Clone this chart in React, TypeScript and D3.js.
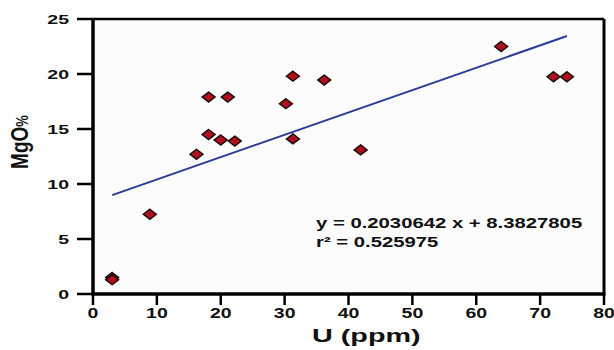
import React from 'react';
import * as d3 from 'd3';

// U (ppm) vs MgO% samples
const uPpm = [3, 3, 8.9, 16.2, 18.1, 21.1, 18.1, 20.0, 22.2, 30.2, 31.3, 31.3, 36.2, 41.9, 63.9, 72.1, 74.2];
const mgoPct = [1.5, 1.3, 7.25, 12.7, 17.9, 17.9, 14.5, 14.0, 13.9, 17.3, 19.8, 14.1, 19.45, 13.1, 22.5, 19.75, 19.75];

const xTicks = [0, 10, 20, 30, 40, 50, 60, 70, 80];
const yTicks = [0, 5, 10, 15, 20, 25];

const slope = 0.2030642;
const intercept = 8.3827805;
const fitRange = [3, 74.2];

const FONT = '"Liberation Sans", Arial, Helvetica, sans-serif';

const W = 614;
const H = 350;
const plot = { left: 93, right: 604, top: 19, bottom: 294 };

const App = () => {
    const x = d3.scaleLinear().domain([0, 80]).range([plot.left, plot.right]);
    const y = d3.scaleLinear().domain([0, 25]).range([plot.bottom, plot.top]);

    const fit = d3.line<number>()
        .x(d => x(d))
        .y(d => y(slope * d + intercept));

    // diamonds look squashed (picture is stretched sideways)
    const diamond = 'M0,-5 L6.5,0 L0,5 L-6.5,0 Z';

    return (
        <svg width={W} height={H} style={{ position: 'absolute', left: 0, top: 0, background: '#fff' }}
            fontFamily={FONT} fontWeight="bold">
            <rect x={plot.left} y={plot.top} width={plot.right - plot.left} height={plot.bottom - plot.top} fill="#fcfcfc" />

            {/* y ticks */}
            {yTicks.map(t => (
                <g key={'y' + t}>
                    <line x1={77} x2={plot.left} y1={y(t)} y2={y(t)} stroke="#000" strokeWidth={2.5} />
                    <text transform={`translate(69,${y(t) + 4.5}) scale(1.5,1)`} textAnchor="end" fontSize={13} fill="#111">{t}</text>
                </g>
            ))}

            {/* x ticks */}
            {xTicks.map(t => (
                <g key={'x' + t}>
                    <line x1={x(t)} x2={x(t)} y1={plot.bottom} y2={305} stroke="#000" strokeWidth={2.5} />
                    <text transform={`translate(${x(t)},318) scale(1.3,1)`} textAnchor="middle" fontSize={15} fill="#111">{t}</text>
                </g>
            ))}

            {/* frame */}
            <line x1={plot.left} x2={plot.right} y1={plot.top} y2={plot.top} stroke="#000" strokeWidth={2.5} />
            <line x1={plot.right} x2={plot.right} y1={plot.top} y2={plot.bottom} stroke="#000" strokeWidth={3} />
            <line x1={plot.left} x2={plot.right + 1.5} y1={plot.bottom} y2={plot.bottom} stroke="#000" strokeWidth={3.5} />
            <line x1={plot.left} x2={plot.left} y1={plot.top - 1} y2={plot.bottom + 1.5} stroke="#000" strokeWidth={3.5} />

            {/* regression */}
            <path d={fit(fitRange) || ''} fill="none" stroke="#2a3d96" strokeWidth={2} />

            {/* points */}
            {uPpm.map((u, i) => (
                <path key={i} d={diamond} transform={`translate(${x(u)},${y(mgoPct[i])})`}
                    fill="#b0101c" stroke="#140808" strokeWidth={1.4} />
            ))}

            {/* equation */}
            <text transform="translate(316,228) scale(1.45,1)" fontSize={14} fill="#111">y = 0.2030642 x + 8.3827805</text>
            <text transform="translate(316,247) scale(1.45,1)" fontSize={14} fill="#111">r² = 0.525975</text>

            {/* axis titles */}
            <text transform="translate(312,342) scale(1.6,1)" fontSize={18} fill="#111">U (ppm)</text>
            <text transform="translate(28,142) rotate(-90) scale(1,1.25)" textAnchor="middle" fontSize={19} fill="#111">
                MgO<tspan fontSize={13}>%</tspan>
            </text>
        </svg>
    );
};

export default App;
